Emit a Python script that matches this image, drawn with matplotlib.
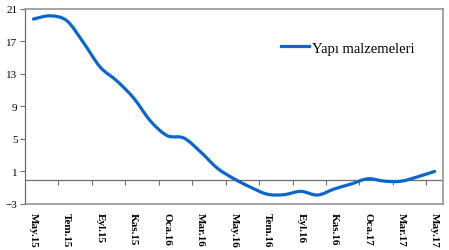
import numpy as np
import matplotlib.pyplot as plt
from matplotlib.path import Path
from matplotlib.patches import PathPatch

plt.rcParams['font.family'] = ['Liberation Serif', 'DejaVu Serif']

# monthly values, May.15 .. May.17
months = ['May.15', 'Haz.15', 'Tem.15', 'Ağu.15', 'Eyl.15', 'Eki.15', 'Kas.15', 'Ara.15',
          'Oca.16', 'Şub.16', 'Mar.16', 'Nis.16', 'May.16', 'Haz.16', 'Tem.16', 'Ağu.16',
          'Eyl.16', 'Eki.16', 'Kas.16', 'Ara.16', 'Oca.17', 'Şub.17', 'Mar.17', 'Nis.17',
          'May.17']
yapi = [19.7, 20.1, 19.5, 16.8, 13.8, 12.1, 10.0, 7.2,
        5.4, 5.1, 3.4, 1.4, 0.1, -0.95, -1.8, -1.85,
        -1.45, -1.9, -1.15, -0.55, 0.1, -0.2, -0.2, 0.35,
        1.0]
label = 'Yapı malzemeleri'

x = np.arange(len(months))
y = np.array(yapi)
gray = '#8c8c8c'
blue = '#0a66cc'

fig = plt.figure(figsize=(4.49, 2.51), dpi=100)
ax = fig.add_axes([25 / 449, 1 - 205 / 251, 418 / 449, 195.5 / 251])

# smoothed line (bezier segments through the data, like the spreadsheet's "smooth line")
pts = np.column_stack([x, y]).astype(float)
ext = np.vstack([pts[0], pts, pts[-1]])
verts = [pts[0]]
codes = [Path.MOVETO]
for i in range(len(pts) - 1):
    c1 = pts[i] + (ext[i + 2] - ext[i]) / 6
    c2 = pts[i + 1] - (ext[i + 3] - ext[i + 1]) / 6
    verts += [c1, c2, pts[i + 1]]
    codes += [Path.CURVE4] * 3
ax.add_patch(PathPatch(Path(verts, codes), fill=False, edgecolor=blue, lw=2.3,
                       capstyle='round', joinstyle='round', zorder=3))
ax.plot([], [], color=blue, lw=2.3, label=label)

ax.axhline(0, color='#6f6f6f', lw=0.9, zorder=1)

ax.set_xlim(-0.5, len(months) - 0.5)
ax.set_ylim(-3, 21)
ax.set_yticks(np.arange(-3, 22, 4))

ax.set_xticks(x[::2])
ax.set_xticklabels(months[::2], rotation=270, fontweight='bold', fontsize=8)
ax.tick_params(axis='x', length=0, pad=6)
ax.tick_params(axis='y', direction='out', length=3.5, width=0.8, color='#6f6f6f',
               labelsize=8, pad=2)

for s in ['top', 'right', 'bottom']:
    ax.spines[s].set_color(gray)
    ax.spines[s].set_linewidth(1.1)
ax.spines['left'].set_color('#6f6f6f')
ax.spines['left'].set_linewidth(0.9)

# tick marks along the zero line, between categories
sec = ax.secondary_xaxis(3 / 24)
sec.set_xticks(np.arange(1.5, len(months) - 0.5, 2))
sec.set_xticklabels([])
sec.tick_params(direction='out', length=3.5, width=0.8, color='#6f6f6f')
sec.spines['bottom'].set_visible(False)

ax.legend(loc='center left', bbox_to_anchor=(0.612, 0.798), frameon=False,
          fontsize=10.5, handlelength=1.9, handletextpad=0.25,
          borderpad=0, borderaxespad=0)

fig.savefig('out.png', dpi=100)
